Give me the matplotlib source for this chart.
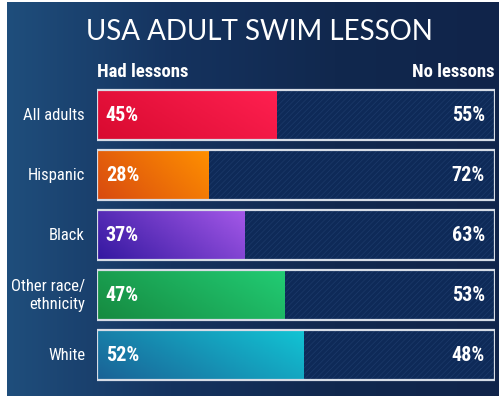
import numpy as np
import matplotlib.pyplot as plt
from matplotlib.patches import Rectangle
from matplotlib import font_manager as fm
from matplotlib.colors import LinearSegmentedColormap

categorias = ['All adults', 'Hispanic', 'Black', 'Other race/\nethnicity', 'White']
con_clases = [45, 28, 37, 47, 52]
sin_clases = [55, 72, 63, 53, 48]
colores = [('#d80a30', '#ff2050'), ('#d84a10', '#ff9000'), ('#3418a0', '#a458e8'),
           ('#168a40', '#22cc74'), ('#1a6296', '#12c4d4')]

nombres = {f.name for f in fm.fontManager.ttflist}
estrecha = [f for f in ['Liberation Sans Narrow', 'Roboto Condensed', 'Roboto'] if f in nombres]
estrecha = estrecha + ['DejaVu Sans']

W, H = 499, 402
fig = plt.figure(figsize=(W / 100, H / 100), dpi=100, facecolor='white')

# fondo azul con degradado
bg = fig.add_axes([7 / W, 5 / H, 492 / W, 394 / H])
bg.set_axis_off()
grad = np.linspace(0, 1, 256).reshape(1, -1)
cmap_bg = LinearSegmentedColormap.from_list('bg', ['#1f4e7c', '#15335f', '#11284e', '#10244a'])
bg.imshow(grad, aspect='auto', cmap=cmap_bg, extent=[0, 1, 0, 1])
bg.set_xlim(0, 1)
bg.set_ylim(0, 1)

plt.rcParams['hatch.linewidth'] = 0.5
plt.rcParams['hatch.color'] = '#1c3a6a'

ax = fig.add_axes([97 / W, (H - 386) / H, 398 / W, 300 / H])
ax.set_xlim(0, 100)
ax.set_ylim(len(categorias) - 0.5, -0.5)
ax.set_axis_off()

alto = 0.84
for i, (v, r) in enumerate(zip(con_clases, sin_clases)):
    y0 = i - alto / 2
    # parte sin clases, con rayas
    ax.add_patch(Rectangle((v, y0), r, alto, facecolor='#0e2a58', edgecolor='#1c3a6a',
                           hatch='//////', linewidth=0, zorder=2))
    # parte con clases, degradado diagonal
    gx, gy = np.meshgrid(np.linspace(0, 1, 100), np.linspace(0, 1, 20))
    g = 0.7 * gx + 0.3 * (1 - gy)
    cm = LinearSegmentedColormap.from_list('c%d' % i, list(colores[i]))
    im = ax.imshow(g, cmap=cm, aspect='auto', extent=[0, v, i + alto / 2, y0], zorder=3)
    clip = Rectangle((0, y0), v, alto, transform=ax.transData, facecolor='none', linewidth=0)
    ax.add_patch(clip)
    im.set_clip_path(clip)
    # borde
    ax.add_patch(Rectangle((0, y0), 100, alto, facecolor='none', edgecolor='#d6dce6',
                           linewidth=1.6, zorder=4))
    ax.text(2.2, i, f'{v}%', color='white', fontsize=14.5, fontweight='bold',
            va='center', ha='left', family=estrecha, zorder=5)
    ax.text(97.5, i, f'{r}%', color='white', fontsize=14.5, fontweight='bold',
            va='center', ha='right', family=estrecha, zorder=5)
    ax.text(-3, i, categorias[i], color='white', fontsize=12, va='center', ha='right',
            family=estrecha, linespacing=1.25, zorder=5)

fig.text(259 / W, 1 - 32 / H, 'USA ADULT SWIM LESSON', color='white', fontsize=20,
         fontweight='normal', ha='center', va='center', family=['Lato', 'DejaVu Sans'])
fig.text(97 / W, 1 - 72 / H, 'Had lessons', color='white', fontsize=13.5, fontweight='bold',
         ha='left', va='center', family=estrecha)
fig.text(494 / W, 1 - 72 / H, 'No lessons', color='white', fontsize=13.5, fontweight='bold',
         ha='right', va='center', family=estrecha)

fig.savefig('out.png', dpi=100, facecolor='white')
